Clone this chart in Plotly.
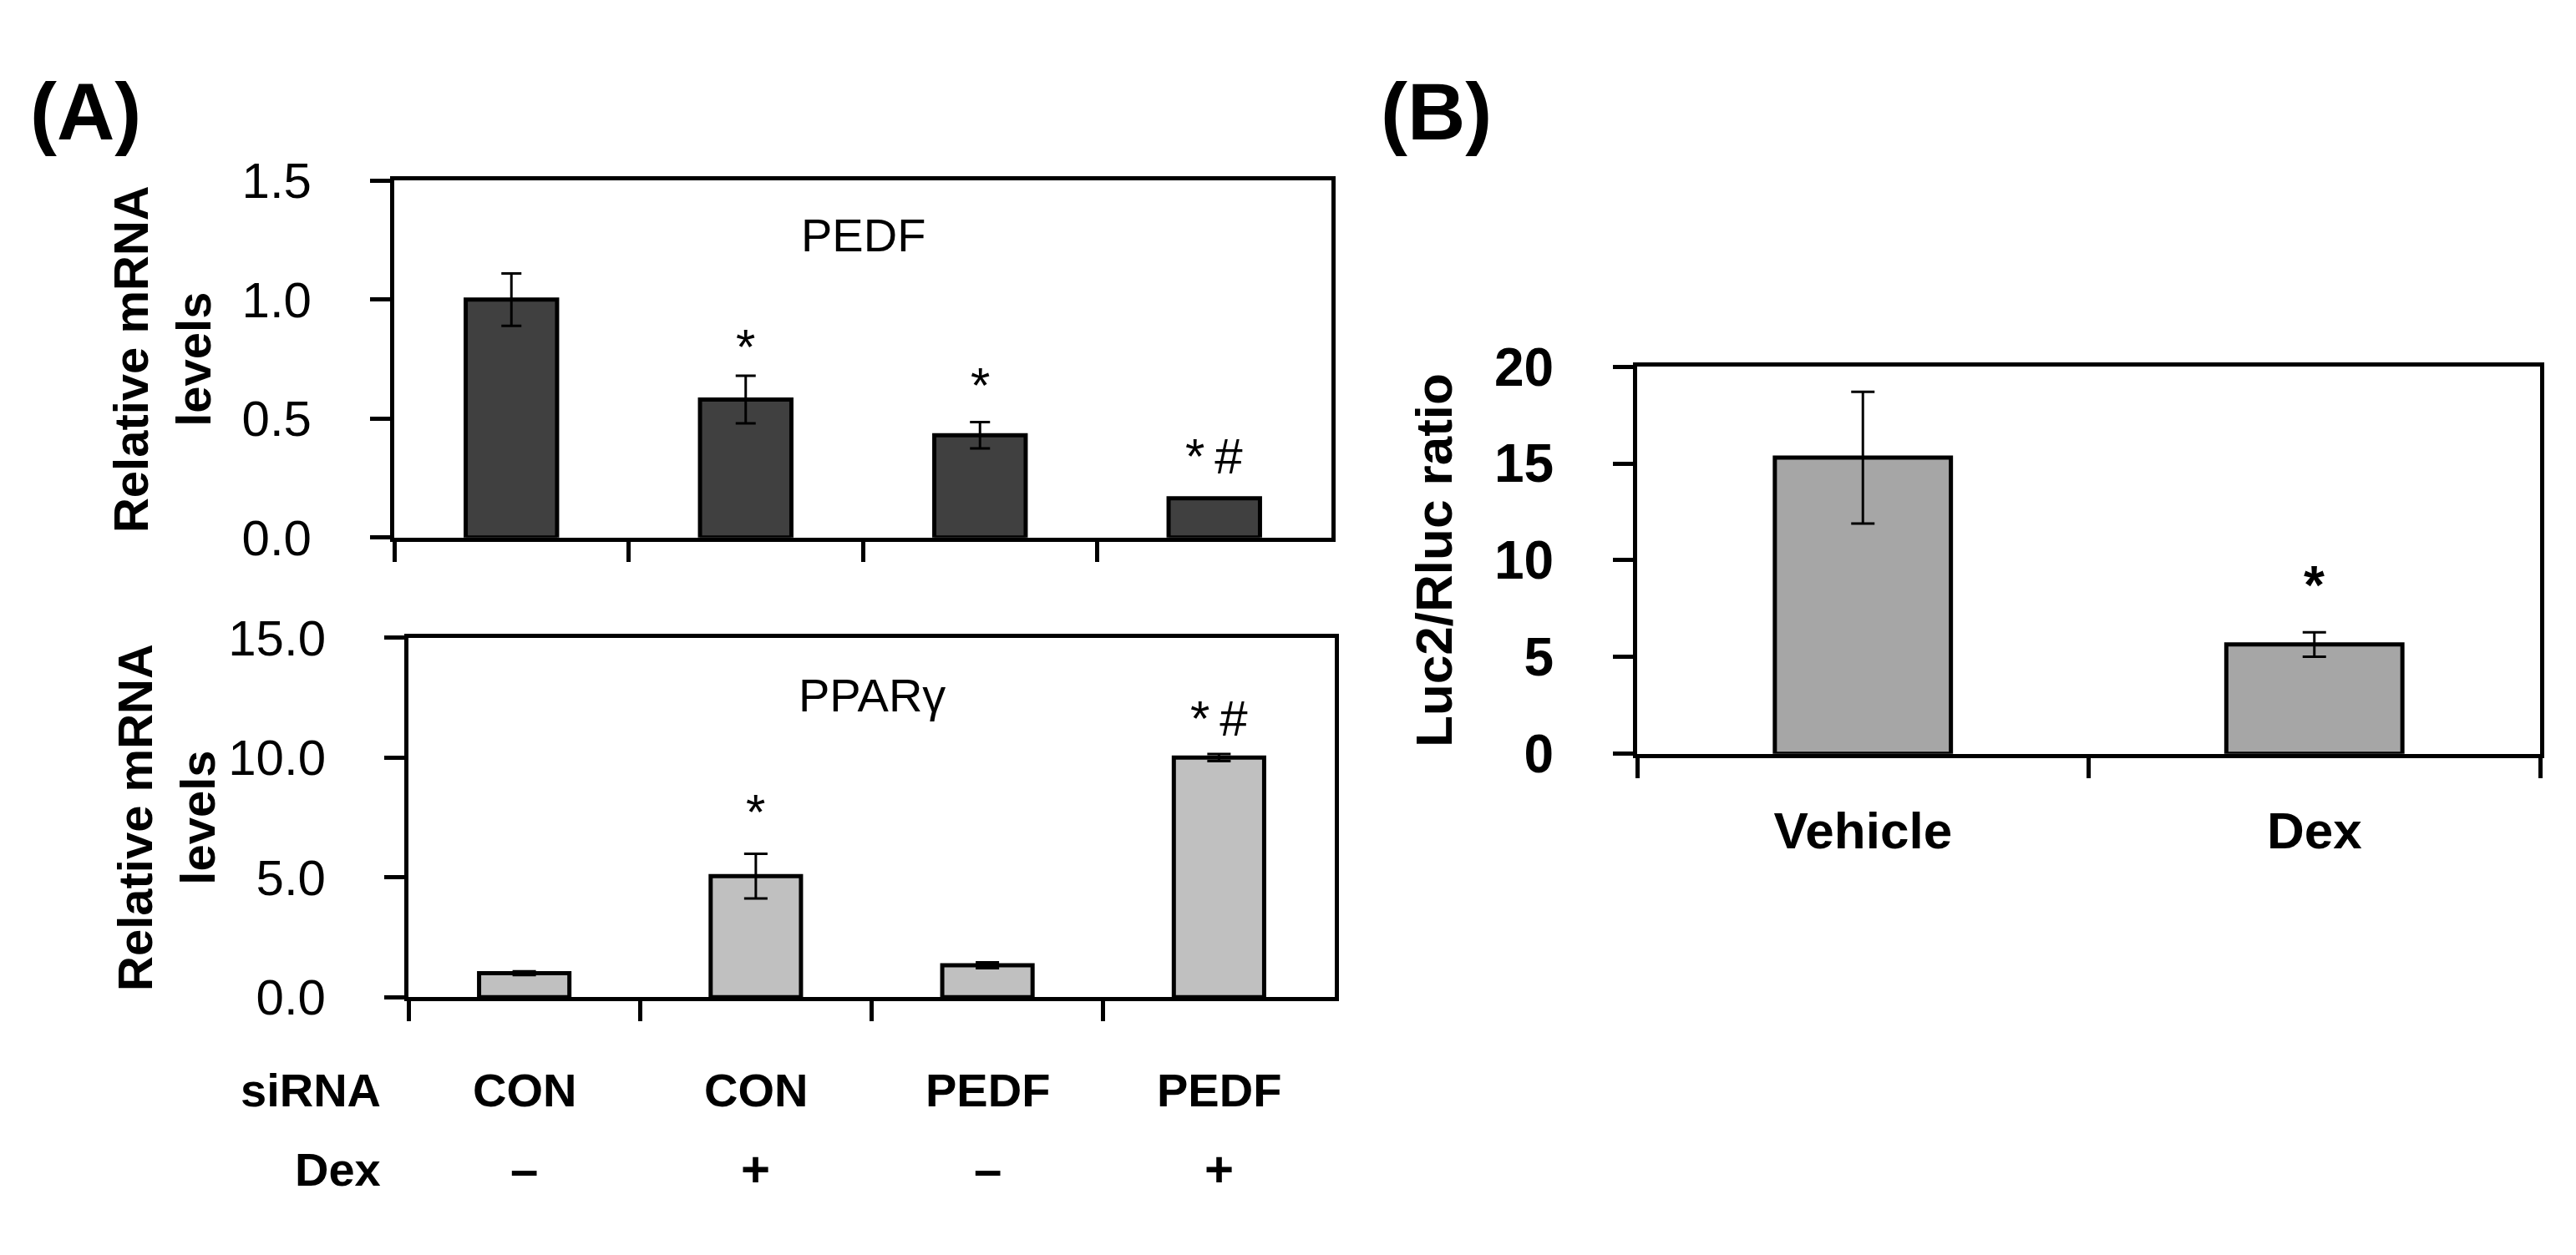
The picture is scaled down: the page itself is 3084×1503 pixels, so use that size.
import plotly.graph_objects as go

# panel A data
groups = ["CON-", "CON+", "PEDF-", "PEDF+"]
sirna_labels = ["CON", "CON", "PEDF", "PEDF"]
dex_labels = ["\u2013", "+", "\u2013", "+"]

pedf_vals = [1.0, 0.58, 0.43, 0.165]
pedf_err = [0.11, 0.10, 0.055, 0.0]
pedf_marks = ["*", "*", "*\u2009#"]
pedf_mark_groups = ["CON+", "PEDF-", "PEDF+"]
pedf_mark_y = [0.85, 0.69, 0.39]

ppar_vals = [1.0, 5.05, 1.33, 10.0]
ppar_err = [0.08, 0.93, 0.12, 0.15]
ppar_marks = ["*", "*\u2009#"]
ppar_mark_groups = ["CON+", "PEDF+"]
ppar_mark_y = [8.2, 12.1]

# panel B data
b_cats = ["Vehicle", "Dex"]
b_vals = [15.3, 5.65]
b_err = [3.4, 0.63]
b_mark_y = [9.3]

FONT = "Liberation Sans, Arial, sans-serif"
W, H = 3084, 1503

fig = go.Figure()

fig.add_trace(go.Bar(x=groups, y=pedf_vals, width=0.39, xaxis="x", yaxis="y",
                     marker=dict(color="#404040", line=dict(color="black", width=5)),
                     error_y=dict(type="data", array=pedf_err, color="black", thickness=3, width=12)))
fig.add_trace(go.Bar(x=groups, y=ppar_vals, width=0.39, xaxis="x2", yaxis="y2",
                     marker=dict(color="#c0c0c0", line=dict(color="black", width=5)),
                     error_y=dict(type="data", array=ppar_err, color="black", thickness=3, width=14)))
fig.add_trace(go.Bar(x=b_cats, y=b_vals, width=0.39, xaxis="x3", yaxis="y3",
                     marker=dict(color="#a6a6a6", line=dict(color="black", width=5)),
                     error_y=dict(type="data", array=b_err, color="black", thickness=3, width=14)))

def px_x(p):
    return p / W

def px_y(p):
    return 1 - p / H

xbase = dict(type="category", showline=True, linewidth=5, linecolor="black", mirror=True,
             ticks="outside", ticklen=24, tickwidth=5, tickcolor="black", tickson="boundaries",
             showgrid=False, zeroline=False)
ybase = dict(showline=True, linewidth=5, linecolor="black", mirror=True,
             ticks="outside", ticklen=24, tickwidth=5, tickcolor="black",
             showgrid=False, zeroline=False, ticklabelstandoff=58)

fig.update_layout(
    width=W, height=H, margin=dict(l=0, r=0, t=0, b=0),
    paper_bgcolor="white", plot_bgcolor="white", showlegend=False,
    font=dict(family=FONT, color="black"),
    xaxis=dict(xbase, domain=[px_x(464), px_x(1586)], anchor="y", showticklabels=False),
    yaxis=dict(ybase, domain=[px_y(630), px_y(181)], anchor="x", range=[0, 1.5],
               tickvals=[0, 0.5, 1.0, 1.5], tickformat=".1f",
               tickfont=dict(family=FONT, size=60)),
    xaxis2=dict(xbase, domain=[px_x(481), px_x(1590)], anchor="y2", showticklabels=False),
    yaxis2=dict(ybase, domain=[px_y(1208), px_y(756)], anchor="x2", range=[0, 15],
                tickvals=[0, 5, 10, 15], tickformat=".1f",
                tickfont=dict(family=FONT, size=60)),
    xaxis3=dict(xbase, domain=[px_x(1952), px_x(3033)], anchor="y3",
                tickfont=dict(family=FONT, size=62, weight="bold"), ticklabelstandoff=34),
    yaxis3=dict(ybase, domain=[px_y(902), px_y(415)], anchor="x3", range=[0, 20],
                tickvals=[0, 5, 10, 15, 20],
                tickfont=dict(family=FONT, size=64, weight="bold"),
                title=dict(text="<b>Luc2/Rluc ratio</b>", font=dict(family=FONT, size=62, color="black"), standoff=32)),
)

ann = []
# panel letters
ann.append(dict(text="<b>(A)</b>", x=px_x(26), y=px_y(94), xref="paper", yref="paper",
                xanchor="left", yanchor="middle", showarrow=False, font=dict(size=96)))
ann.append(dict(text="<b>(B)</b>", x=px_x(1643), y=px_y(94), xref="paper", yref="paper",
                xanchor="left", yanchor="middle", showarrow=False, font=dict(size=96)))
# y titles of panel A
for xc, yd in [(186, "y domain"), (191, "y2 domain")]:
    ann.append(dict(text="<b>Relative mRNA<br>levels</b>", x=px_x(xc), y=0.5, xref="paper", yref=yd,
                    xanchor="center", yanchor="middle", textangle=-90, showarrow=False,
                    font=dict(size=58)))
# gene names inside panels
ann.append(dict(text="PEDF", x=1.5, y=1.27, xref="x", yref="y", showarrow=False,
                yanchor="middle", font=dict(size=56)))
ann.append(dict(text="PPAR\u03b3", x=1.5, y=12.6, xref="x2", yref="y2", showarrow=False,
                yanchor="middle", font=dict(size=56)))
# significance marks
for g, yv, t in zip(pedf_mark_groups, pedf_mark_y, pedf_marks):
    ann.append(dict(text=t, x=g, y=yv, xref="x", yref="y", showarrow=False,
                    yanchor="middle", yshift=-14, font=dict(size=60)))
for g, yv, t in zip(ppar_mark_groups, ppar_mark_y, ppar_marks):
    ann.append(dict(text=t, x=g, y=yv, xref="x2", yref="y2", showarrow=False,
                    yanchor="middle", yshift=-14, font=dict(size=60)))
ann.append(dict(text="<b>*</b>", x="Dex", y=b_mark_y[0], xref="x3", yref="y3", showarrow=False,
                yanchor="middle", yshift=-14, font=dict(size=64)))
# treatment rows under panel A
ann.append(dict(text="<b>siRNA</b>", x=px_x(450), y=px_y(1325), xref="paper", yref="paper",
                xanchor="right", yanchor="middle", showarrow=False, font=dict(size=56)))
ann.append(dict(text="<b>Dex</b>", x=px_x(450), y=px_y(1425), xref="paper", yref="paper",
                xanchor="right", yanchor="middle", showarrow=False, font=dict(size=56)))
for g, s, d in zip(groups, sirna_labels, dex_labels):
    ann.append(dict(text="<b>%s</b>" % s, x=g, y=px_y(1325), xref="x2", yref="paper",
                    yanchor="middle", showarrow=False, font=dict(size=56)))
    ann.append(dict(text="<b>%s</b>" % d, x=g, y=px_y(1425), xref="x2", yref="paper",
                    yanchor="middle", showarrow=False, font=dict(size=60)))

fig.update_layout(annotations=ann)
fig.write_html("out.html")
